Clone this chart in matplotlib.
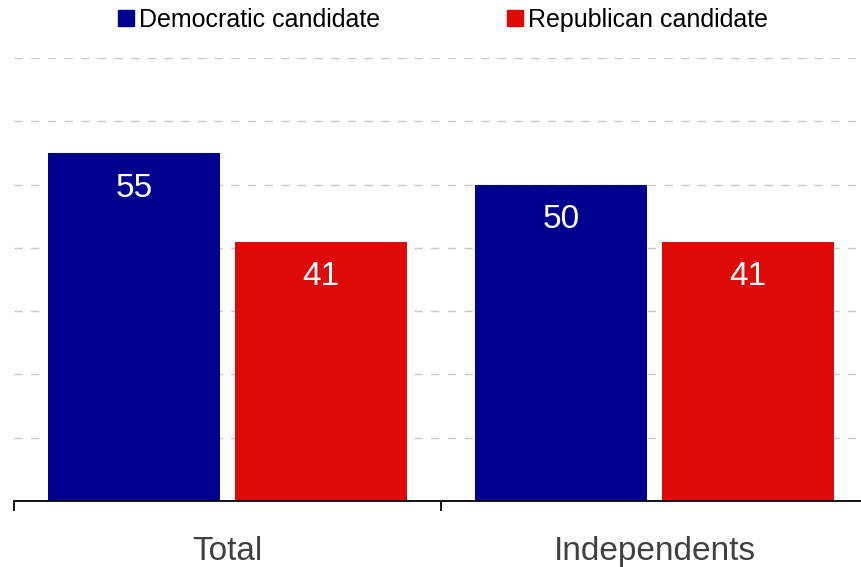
import matplotlib.pyplot as plt
from matplotlib.lines import Line2D
import numpy as np

plt.rcParams['font.family'] = ['Liberation Sans', 'DejaVu Sans']

categories = ['Total', 'Independents']
democratic = [55, 50]
republican = [41, 41]
series_names = ['Democratic candidate', 'Republican candidate']
colors = ['#00008F', '#DD0A08']
grid_levels = [10, 20, 30, 40, 50, 60, 70]

fig = plt.figure(figsize=(8.62, 5.67), dpi=100)
ax = fig.add_axes([14 / 862, 1 - 501 / 567, 854 / 862, 443 / 567])

x = np.arange(len(categories))
w = 0.403
off = 0.219

# dashed gridlines behind the bars
for g in grid_levels:
    ax.axhline(g, color='#C8C8C8', lw=1, ls=(0, (6, 6)), zorder=0)

b1 = ax.bar(x - off, democratic, w, color=colors[0], zorder=2)
b2 = ax.bar(x + off, republican, w, color=colors[1], zorder=2)

# value labels inside the top of each bar
for bars in (b1, b2):
    for rect in bars:
        h = rect.get_height()
        ax.annotate(str(h), (rect.get_x() + rect.get_width() / 2, h),
                    xytext=(0, -25.5), textcoords='offset points',
                    ha='center', va='center', color='white', fontsize=24)

ax.set_xlim(-0.5, 1.5)
ax.set_ylim(0, 70)

for s in ['top', 'right', 'left']:
    ax.spines[s].set_visible(False)
ax.spines['bottom'].set_linewidth(1.3)
ax.set_yticks([])

# boundary ticks as major, category labels as minor
ax.set_xticks([-0.5, 0.5, 1.5])
ax.set_xticklabels([])
ax.tick_params(axis='x', which='major', length=7.5, width=1.3, direction='out')
ax.set_xticks(x, minor=True)
ax.set_xticklabels(categories, minor=True, fontsize=24, color='#404040')
ax.tick_params(axis='x', which='minor', length=0, pad=25.5)

handles = [Line2D([], [], marker='s', ls='', markersize=11.5, color=c) for c in colors]
fig.legend(handles, series_names, loc='center', bbox_to_anchor=(442 / 862, 1 - 20 / 567),
           ncol=2, frameon=False, fontsize=18, handletextpad=0.1, columnspacing=5.0,
           handlelength=0.8, borderpad=0)

fig.savefig('out.png', dpi=100)
